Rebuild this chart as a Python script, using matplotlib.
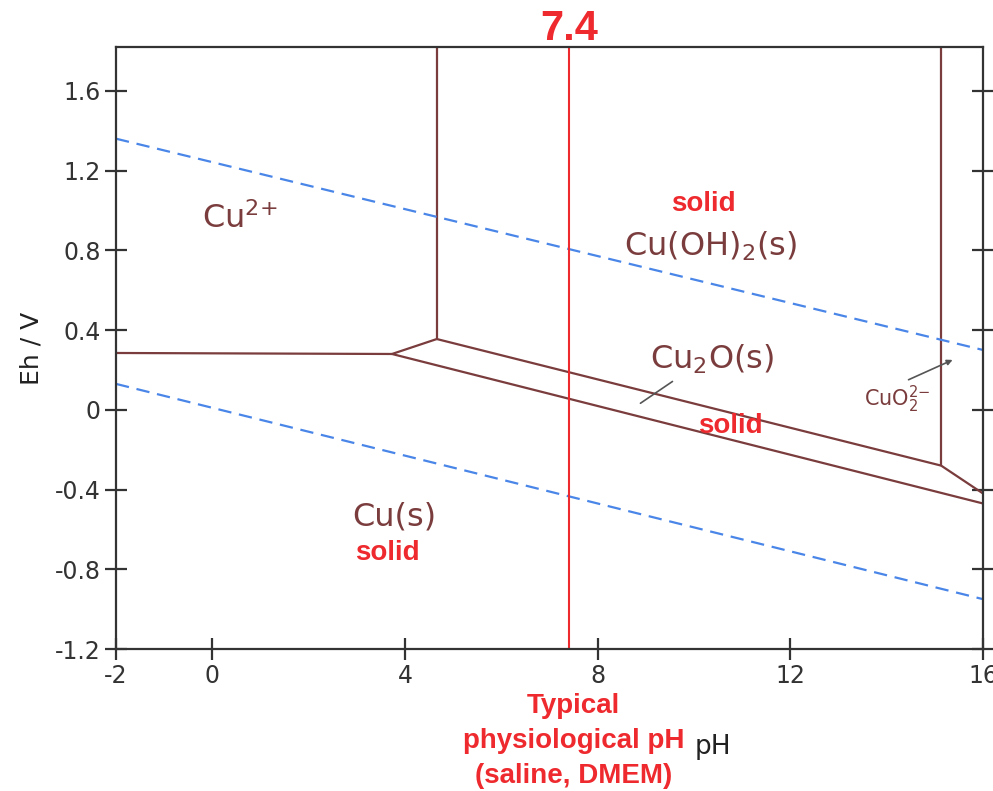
import matplotlib
matplotlib.use("Agg")
import matplotlib.pyplot as plt

plt.rcParams["font.family"] = ["DejaVu Sans"]
plt.rcParams["mathtext.fontset"] = "dejavusans"

# Pourbaix (Eh-pH) diagram for copper
ph_lim = [-2, 16]
eh_lim = [-1.2, 1.82]
x_ticks = [-2, 0, 4, 8, 12, 16]
y_ticks = [-1.2, -0.8, -0.4, 0, 0.4, 0.8, 1.2, 1.6]

# Phase boundaries (pH, Eh)
cu2_cus_ph, cu2_cus_eh = [-2, 3.73], [0.285, 0.28]
cu2_cu2o_ph, cu2_cu2o_eh = [3.73, 4.66], [0.28, 0.355]
cu2_cuoh2_ph, cu2_cuoh2_eh = [4.66, 4.66], [0.355, 1.82]
cuoh2_cu2o_ph, cuoh2_cu2o_eh = [4.66, 15.13], [0.355, -0.28]
cuoh2_cuo2_ph, cuoh2_cuo2_eh = [15.13, 15.13], [-0.28, 1.82]
cuo2_cu2o_ph, cuo2_cu2o_eh = [15.13, 16], [-0.28, -0.42]
cu2o_cus_ph, cu2o_cus_eh = [3.73, 16], [0.28, -0.47]

# Water stability limits
o2_line_ph, o2_line_eh = [-2, 16], [1.36, 0.30]
h2_line_ph, h2_line_eh = [-2, 16], [0.13, -0.95]

phys_ph = 7.4

BROWN = "#7a3c3c"
RED = "#ee2a2e"
BLUE = "#4a86e8"
AXC = "#333333"

fig = plt.figure(figsize=(9.93, 7.91), dpi=100)
ax = fig.add_axes([0.1168, 0.1795, 0.8732, 0.7611])
ax.set_xlim(ph_lim)
ax.set_ylim(eh_lim)

boundaries = [
    (cu2_cus_ph, cu2_cus_eh),
    (cu2_cu2o_ph, cu2_cu2o_eh),
    (cu2_cuoh2_ph, cu2_cuoh2_eh),
    (cuoh2_cu2o_ph, cuoh2_cu2o_eh),
    (cuoh2_cuo2_ph, cuoh2_cuo2_eh),
    (cuo2_cu2o_ph, cuo2_cu2o_eh),
    (cu2o_cus_ph, cu2o_cus_eh),
]
for px, py in boundaries:
    ax.plot(px, py, color=BROWN, lw=1.6, solid_capstyle="butt")

for px, py in [(o2_line_ph, o2_line_eh), (h2_line_ph, h2_line_eh)]:
    ax.plot(px, py, color=BLUE, lw=1.6, linestyle=(0, (6, 3.5)))

ax.axvline(phys_ph, color=RED, lw=1.5)

# Spines and ticks
for s in ax.spines.values():
    s.set_color(AXC)
    s.set_linewidth(1.6)
ax.set_xticks(x_ticks)
ax.set_yticks(y_ticks)
ax.set_xticklabels([f"{v:g}" for v in x_ticks])
ax.set_yticklabels([f"{v:g}" for v in y_ticks])
ax.tick_params(axis="both", direction="inout", length=16, width=1.6,
               color=AXC, labelcolor=AXC, labelsize=17)
ax.tick_params(axis="y", right=True, pad=3)
ax.tick_params(axis="x", pad=3)

ax.text(-0.098, 0.5, "Eh / V", transform=ax.transAxes, rotation=90,
        ha="center", va="center", fontsize=18, color="#222222")
ax.text(0.688, -0.162, "pH", transform=ax.transAxes,
        ha="center", va="center", fontsize=19, color="#222222")

bold_red = dict(color=RED, fontweight="bold", family="Liberation Sans")
ax.text(phys_ph, 1.012, f"{phys_ph:g}", transform=ax.get_xaxis_transform(),
        ha="center", va="baseline", fontsize=30, **bold_red)
ax.text(phys_ph + 0.1, -0.152, "Typical\nphysiological pH\n(saline, DMEM)",
        transform=ax.get_xaxis_transform(), ha="center", va="center",
        fontsize=20, linespacing=1.45, **bold_red)

# Region labels
lab = dict(color=BROWN, fontsize=23, ha="center", va="center")
ax.text(0.57, 0.96, r"Cu$^{2{+}}$", **lab)
ax.text(10.35, 0.82, r"Cu(OH)$_2$(s)", **lab)
ax.text(10.37, 0.255, r"Cu$_2$O(s)", **lab)
ax.text(3.77, -0.54, "Cu(s)", **lab)
ax.text(14.21, 0.05, r"CuO$_2^{2{-}}$", color=BROWN, fontsize=15,
        ha="center", va="center")

ax.text(10.19, 1.03, "solid", ha="center", va="center", fontsize=20, **bold_red)
ax.text(10.75, -0.08, "solid", ha="center", va="center", fontsize=20, **bold_red)
ax.text(3.63, -0.717, "solid", ha="center", va="center", fontsize=20, **bold_red)

# Pointers to narrow fields
ax.annotate("", xy=(8.84, 0.025), xytext=(9.60, 0.15),
            arrowprops=dict(arrowstyle="-", color="#555555", lw=1.2))
ax.annotate("", xy=(15.42, 0.256), xytext=(14.40, 0.145),
            arrowprops=dict(arrowstyle="-|>", color="#555555", lw=1.2,
                            mutation_scale=8))

fig.savefig("out.png", dpi=100, facecolor="white")
